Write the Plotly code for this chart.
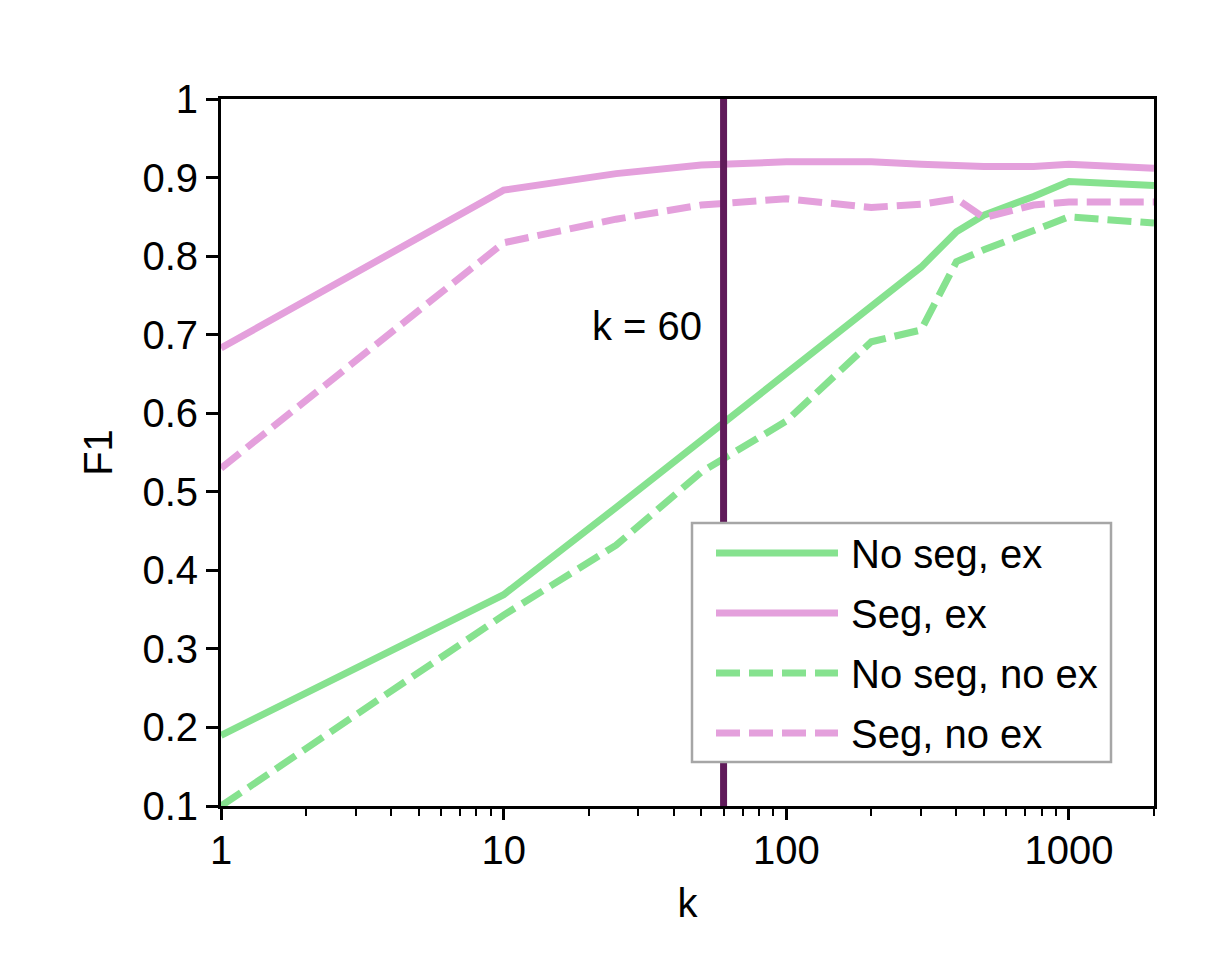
import math
import plotly.graph_objects as go

# ---- data ----
k_values = [1, 10, 25, 50, 100, 200, 300, 400, 500, 750, 1000, 2000]
no_seg_ex = [0.190, 0.369, 0.480, 0.565, 0.650, 0.736, 0.786, 0.831, 0.852, 0.876, 0.895, 0.890]
seg_ex = [0.683, 0.884, 0.905, 0.916, 0.920, 0.920, 0.917, 0.915, 0.914, 0.914, 0.917, 0.912]
no_seg_no_ex = [0.100, 0.343, 0.432, 0.525, 0.590, 0.691, 0.706, 0.793, 0.808, 0.832, 0.850, 0.842]
seg_no_ex = [0.530, 0.817, 0.847, 0.865, 0.873, 0.862, 0.866, 0.873, 0.849, 0.865, 0.869, 0.869]
series_names = ["No seg, ex", "Seg, ex", "No seg, no ex", "Seg, no ex"]
cutoff_k = 60
cutoff_label = "k = 60"
y_ticks = [0.1, 0.2, 0.3, 0.4, 0.5, 0.6, 0.7, 0.8, 0.9, 1.0]
y_tick_text = ["0.1", "0.2", "0.3", "0.4", "0.5", "0.6", "0.7", "0.8", "0.9", "1"]
x_ticks = [1, 10, 100, 1000]
x_tick_text = ["1", "10", "100", "1000"]

GREEN = "rgb(134,226,143)"
PINK = "rgb(228,160,220)"
PURPLE = "rgb(96,26,90)"
FONT = "Liberation Sans, Arial, sans-serif"
DASH = "24px,9px"
LW = 7

series = [no_seg_ex, seg_ex, no_seg_no_ex, seg_no_ex]
colors = [GREEN, PINK, GREEN, PINK]
dashes = ["solid", "solid", DASH, DASH]

fig = go.Figure()
for name, vals, c, d in zip(series_names, series, colors, dashes):
    fig.add_trace(go.Scatter(x=k_values, y=vals, mode="lines", name=name,
                             line=dict(color=c, width=LW, dash=d), showlegend=False))

# vertical cutoff line
fig.add_trace(go.Scatter(x=[cutoff_k, cutoff_k], y=[y_ticks[0], y_ticks[-1]], mode="lines",
                         line=dict(color=PURPLE, width=7), showlegend=False, hoverinfo="skip"))

W, H = 1228, 973
L, R, T, B = 221, 74, 99, 167
pw, ph = W - L - R, H - T - B

def px(xp):
    return (xp - L) / pw

def py(yp):
    return (H - B - yp) / ph

shapes = []
annotations = []
# manual legend
shapes.append(dict(type="rect", xref="paper", yref="paper", x0=px(692), x1=px(1111),
                   y0=py(762), y1=py(523), fillcolor="white",
                   line=dict(color="rgb(166,166,166)", width=2.5), layer="above"))
row_y = [553, 613, 673, 733]
for name, c, d, ry in zip(series_names, colors, dashes, row_y):
    shapes.append(dict(type="line", xref="paper", yref="paper", x0=px(716), x1=px(838),
                       y0=py(ry), y1=py(ry), line=dict(color=c, width=LW, dash=d),
                       layer="above"))
    annotations.append(dict(text=name, xref="paper", yref="paper", x=px(849), y=py(ry + 1),
                            xanchor="left", yanchor="middle", showarrow=False,
                            font=dict(size=40, color="black", family=FONT)))

annotations.append(dict(text=cutoff_label, xref="x", yref="y", x=math.log10(cutoff_k), y=0.711,
                        xanchor="right", yanchor="middle", xshift=-20, showarrow=False,
                        font=dict(size=40, color="black", family=FONT)))

fig.update_layout(
    width=W, height=H,
    margin=dict(l=L, r=R, t=T, b=B, pad=0),
    paper_bgcolor="white", plot_bgcolor="white",
    font=dict(family=FONT, size=40, color="black"),
    shapes=shapes, annotations=annotations,
    xaxis=dict(type="log", range=[0, math.log10(k_values[-1])],
               tickvals=x_ticks, ticktext=x_tick_text,
               ticks="outside", ticklen=11, tickwidth=2.5, tickcolor="black",
               ticklabelstandoff=-4,
               showline=True, linecolor="black", linewidth=3, mirror=True,
               showgrid=False, zeroline=False,
               tickfont=dict(size=40, color="black", family=FONT),
               minor=dict(ticks="outside", ticklen=7, tickwidth=2, tickcolor="black",
                          dtick="D1", showgrid=False),
               title=dict(text="k", font=dict(size=40, color="black", family=FONT), standoff=18)),
    yaxis=dict(range=[y_ticks[0], y_ticks[-1]], tickvals=y_ticks, ticktext=y_tick_text,
               ticks="outside", ticklen=12, tickwidth=2.5, tickcolor="black",
               showline=True, linecolor="black", linewidth=3, mirror=True,
               showgrid=False, zeroline=False,
               tickfont=dict(size=40, color="black", family=FONT),
               title=dict(text="F1", font=dict(size=40, color="black", family=FONT), standoff=18)),
)

fig.write_html("out.html")
